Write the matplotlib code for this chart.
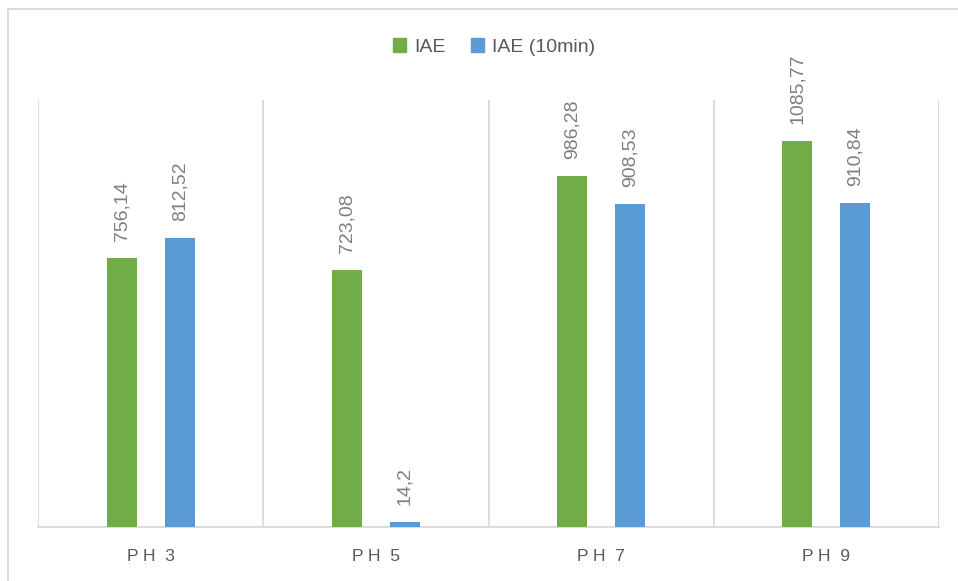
import matplotlib
matplotlib.use("Agg")
import matplotlib.pyplot as plt
from matplotlib.lines import Line2D
import numpy as np

categories = ["P H  3", "P H  5", "P H  7", "P H  9"]
iae = [756.14, 723.08, 986.28, 1085.77]
iae_10 = [812.52, 14.2, 908.53, 910.84]
series_names = ["IAE", "IAE (10min)"]

green = "#70AD47"
blue = "#5B9BD5"
grid_c = "#D9D9D9"
text_c = "#595959"

plt.rcParams['font.family'] = ['Liberation Sans', 'DejaVu Sans']

fig = plt.figure(figsize=(9.58, 5.81), dpi=100)
W, H = 958, 581
ax = fig.add_axes([38 / W, (H - 527) / H, (939 - 38) / W, (527 - 100) / H])

x = np.arange(len(categories))
bw = 0.133
off = 0.129
b1 = ax.bar(x - off, iae, bw, color=green, label=series_names[0], zorder=3)
b2 = ax.bar(x + off, iae_10, bw, color=blue, label=series_names[1], zorder=3)

def fmt(v):
    s = f"{v:.2f}".rstrip("0").rstrip(".")
    return s.replace(".", ",")

for bars, vals in ((b1, iae), (b2, iae_10)):
    for r, v in zip(bars, vals):
        ax.annotate(fmt(v), (r.get_x() + r.get_width() / 2, v),
                    xytext=(0, 12), textcoords="offset points",
                    rotation=90, ha="center", va="bottom",
                    fontsize=14, color="#7F7F7F")

ax.set_xlim(-0.5, len(categories) - 0.5)
ax.set_ylim(0, 1200)
ax.set_yticks([])
ax.set_xticks(x)
ax.set_xticklabels(categories, fontsize=12.5, color=text_c)
ax.tick_params(axis="x", length=0, pad=16)
for b in np.arange(len(categories) + 1) - 0.5:
    ax.axvline(b, color=grid_c, lw=1.3, zorder=1)
for s in ["top", "left", "right"]:
    ax.spines[s].set_visible(False)
ax.spines["bottom"].set_color(grid_c)
ax.spines["bottom"].set_linewidth(1.3)

handles = [plt.Rectangle((0, 0), 1, 1, color=green), plt.Rectangle((0, 0), 1, 1, color=blue)]
fig.legend(handles, series_names, loc="center", bbox_to_anchor=(494 / W, 1 - 47 / H),
           ncol=2, frameon=False, fontsize=14, labelcolor=text_c,
           handlelength=0.7, handleheight=0.7, handletextpad=0.4, columnspacing=1.3)

# outer chart border
fig.add_artist(Line2D([8 / W, 8 / W], [0, 1 - 9 / H], transform=fig.transFigure, color=grid_c, lw=1.3))
fig.add_artist(Line2D([8 / W, 1], [1 - 9 / H, 1 - 9 / H], transform=fig.transFigure, color=grid_c, lw=1.3))

fig.savefig("out.png", dpi=100)
